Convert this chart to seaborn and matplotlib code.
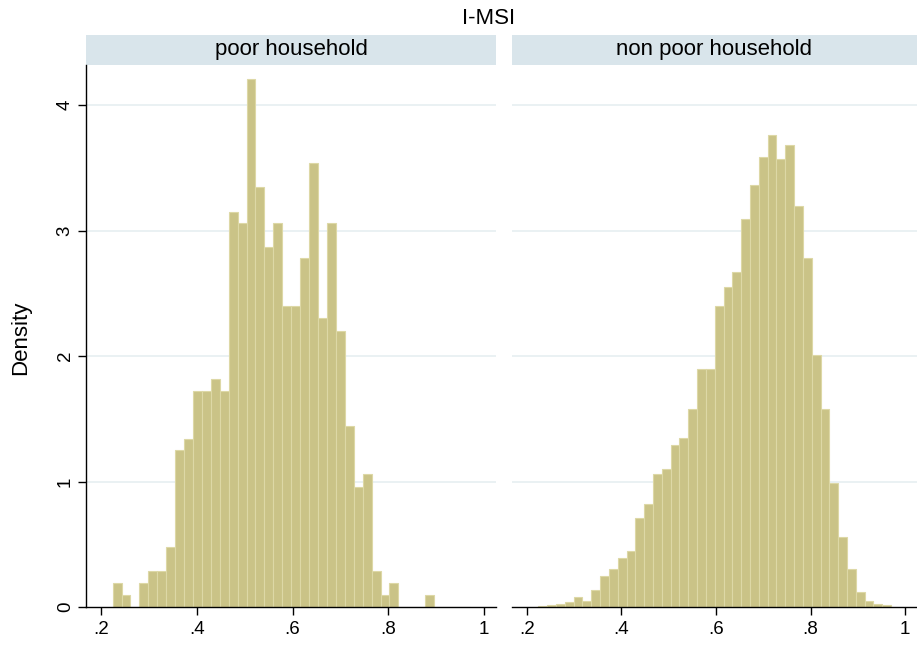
import numpy as np
import pandas as pd
import matplotlib
matplotlib.use("Agg")
import matplotlib.pyplot as plt
from matplotlib.patches import Rectangle
import seaborn as sns

# Common bins shared by both groups
bin_start = 0.2243
bin_width = 0.01865
n_bins = 40

groups = ["poor household", "non poor household"]

# Density per bin, poor households
density_poor = [
    0.19, 0.097, 0.0, 0.19, 0.29, 0.29, 0.48, 1.25, 1.34, 1.72,
    1.72, 1.82, 1.72, 3.15, 3.06, 4.21, 3.35, 2.87, 3.06, 2.40,
    2.40, 2.78, 3.54, 2.30, 3.06, 2.20, 1.44, 0.96, 1.06, 0.29,
    0.097, 0.19, 0.0, 0.0, 0.0, 0.097, 0.0, 0.0, 0.0, 0.0,
]

# Density per bin, non poor households
density_nonpoor = [
    0.008, 0.012, 0.024, 0.042, 0.078, 0.045, 0.137, 0.245, 0.30, 0.39,
    0.45, 0.71, 0.82, 1.06, 1.10, 1.29, 1.35, 1.58, 1.90, 1.90,
    2.40, 2.55, 2.67, 3.09, 3.36, 3.59, 3.76, 3.57, 3.68, 3.20,
    2.78, 2.01, 1.58, 0.99, 0.56, 0.30, 0.12, 0.044, 0.024, 0.012,
]

x_ticks = [0.2, 0.4, 0.6, 0.8, 1.0]
x_ticklabels = [".2", ".4", ".6", ".8", "1"]
y_ticks = [0, 1, 2, 3, 4]

edges = bin_start + bin_width * np.arange(n_bins + 1)
mids = (edges[:-1] + edges[1:]) / 2

df = pd.concat([
    pd.DataFrame({"group": groups[0], "imsi": mids, "density": density_poor}),
    pd.DataFrame({"group": groups[1], "imsi": mids, "density": density_nonpoor}),
], ignore_index=True)

sns.set_theme(style="white")
plt.rcParams["font.family"] = ["Liberation Sans", "DejaVu Sans"]
plt.rcParams.update({
    "text.color": "black",
    "axes.labelcolor": "black",
    "xtick.color": "black",
    "ytick.color": "black",
    "xtick.labelcolor": "black",
    "ytick.labelcolor": "black",
})

W, H = 917, 646
fig = plt.figure(figsize=(W / 100, H / 100), dpi=100)

# Panel geometry in pixels: (left, right), shared top/bottom
panels_px = [(86, 496), (512, 917)]
top_px, bottom_px = 65, 607
strip_px = 30

bar_color = "#CAC387"
edge_color = "#DDD8A6"
strip_color = "#D9E5EB"
grid_color = "#E8F0F2"

xlim = (0.1687, 1.025)
ylim = (0, 4.32)

axes = []
for i, (g, (l, r)) in enumerate(zip(groups, panels_px)):
    ax = fig.add_axes([l / W, (H - bottom_px) / H, (r - l) / W, (bottom_px - top_px) / H])
    sub = df[df["group"] == g]
    sns.histplot(
        data=sub, x="imsi", weights="density", bins=n_bins,
        binrange=(edges[0], edges[-1]), stat="count",
        color=bar_color, edgecolor=edge_color, linewidth=0.8, alpha=1.0, ax=ax,
    )
    ax.set_xlim(*xlim)
    ax.set_ylim(*ylim)
    ax.set_axisbelow(True)
    for yv in y_ticks[1:]:
        ax.axhline(yv, color=grid_color, lw=1.3, zorder=0)
    ax.grid(False)

    ax.set_xlabel("")
    ax.set_ylabel("")
    ax.set_xticks(x_ticks)
    ax.set_xticklabels(x_ticklabels)
    ax.tick_params(axis="x", direction="out", length=5.8, width=1.0, color="black",
                   labelcolor="black", labelsize=13.5, pad=4.5, bottom=True)

    for side in ["top", "right"]:
        ax.spines[side].set_visible(False)
    ax.spines["bottom"].set_color("black")
    ax.spines["bottom"].set_linewidth(1.0)

    if i == 0:
        ax.spines["left"].set_color("black")
        ax.spines["left"].set_linewidth(1.0)
        ax.set_yticks(y_ticks)
        ax.tick_params(axis="y", direction="out", length=5.8, width=1.0, color="black",
                       labelcolor="black", labelsize=13.5, pad=3, left=True)
        for lab in ax.get_yticklabels():
            lab.set_rotation(90)
            lab.set_va("center")
    else:
        ax.spines["left"].set_visible(False)
        ax.set_yticks(y_ticks)
        ax.tick_params(axis="y", left=False, labelleft=False)

    # facet strip
    sh = strip_px / (bottom_px - top_px)
    ax.add_patch(Rectangle((0, 1), 1, sh, transform=ax.transAxes, clip_on=False,
                           facecolor=strip_color, edgecolor="none"))
    ax.text(0.5, 1 + sh / 2, g, transform=ax.transAxes, ha="center", va="center",
            fontsize=16, color="black")
    axes.append(ax)

fig.text(488.5 / W, 1 - 18 / H, "I-MSI", ha="center", va="center", fontsize=16,
         color="black")
fig.text(21 / W, 1 - 338 / H, "Density", ha="center", va="center", rotation=90,
         fontsize=16, color="black")

fig.savefig("out.png", dpi=100, facecolor="white")
